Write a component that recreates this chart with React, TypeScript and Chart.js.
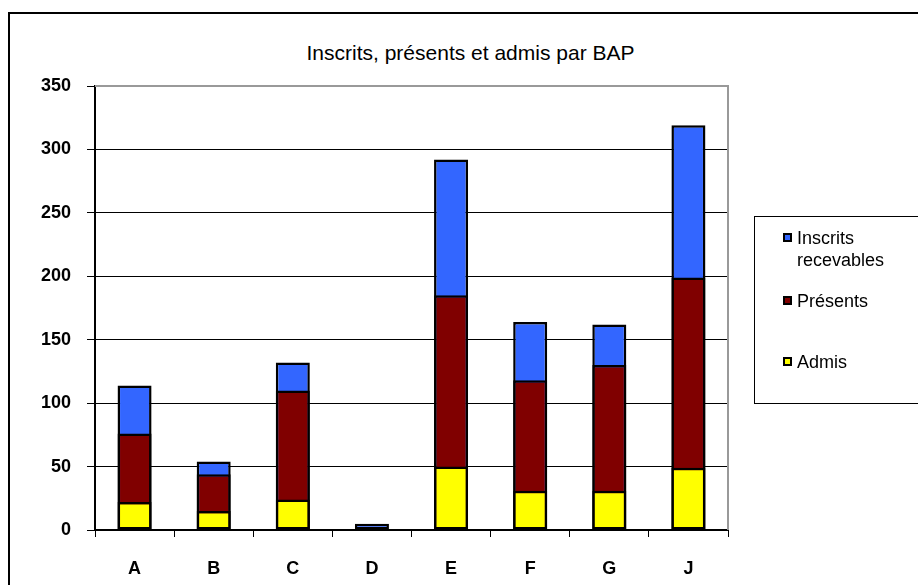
import React, { useEffect, useRef } from "react";
import { Chart, registerables } from "chart.js";

Chart.register(...registerables);

const categories = ["A", "B", "C", "D", "E", "F", "G", "J"];
const inscrits = [114, 54, 132, 5, 292, 164, 162, 319];
const presents = [76, 44, 110, 0, 185, 118, 130, 199];
const admis = [22, 15, 24, 0, 50, 31, 31, 49];
const yTicks = [0, 50, 100, 150, 200, 250, 300, 350];

const title = "Inscrits, présents et admis par BAP";
const legendItems = [
  { label: ["Inscrits", "recevables"], color: "#3366FF" },
  { label: ["Présents"], color: "#800000" },
  { label: ["Admis"], color: "#FFFF00" },
];

const FONT = "'Liberation Sans', Arial, sans-serif";

export default function App() {
  const ref = useRef<HTMLCanvasElement>(null);

  useEffect(() => {
    if (!ref.current) return;
    const framePlugin = {
      id: "frame",
      afterDatasetsDraw(chart: any) {
        const { ctx, chartArea } = chart;
        ctx.save();
        ctx.strokeStyle = "#999999";
        ctx.lineWidth = 2;
        ctx.beginPath();
        ctx.moveTo(chartArea.left, chartArea.top);
        ctx.lineTo(chartArea.right, chartArea.top);
        ctx.lineTo(chartArea.right, chartArea.bottom);
        ctx.stroke();
        ctx.restore();
      },
    };
    const chart = new Chart(ref.current, {
      type: "bar",
      data: {
        labels: categories,
        datasets: [
          { label: "Admis", data: admis, backgroundColor: "#FFFF00" },
          { label: "Présents", data: presents, backgroundColor: "#800000" },
          { label: "Inscrits recevables", data: inscrits, backgroundColor: "#3366FF" },
        ].map((d) => ({
          ...d,
          borderColor: "#000000",
          borderWidth: 2.5,
          borderSkipped: false,
          grouped: false,
          barPercentage: 0.43,
          categoryPercentage: 1,
        })),
      },
      options: {
        animation: false,
        responsive: false,
        layout: { padding: { left: 0, top: 86, right: 190, bottom: 0 } },
        plugins: {
          legend: { display: false },
          title: { display: false },
          tooltip: { enabled: false },
        },
        scales: {
          x: {
            stacked: false,
            afterFit: (s: any) => {
              s.height = 55;
            },
            grid: {
              offset: true,
              drawOnChartArea: false,
              drawTicks: true,
              tickLength: 7,
              color: "#000000",
              lineWidth: 1,
            },
            border: { display: true, color: "#000000", width: 2 },
            ticks: {
              color: "#000000",
              padding: 21,
              font: { family: FONT, size: 18, weight: "bold" },
            },
          },
          y: {
            min: 0,
            max: 350,
            afterFit: (s: any) => {
              s.width = 95;
            },
            afterBuildTicks: (s: any) => {
              s.ticks = yTicks.map((v) => ({ value: v }));
            },
            grid: {
              color: (c: any) => (c.tick && c.tick.value === 350 ? "rgba(0,0,0,0)" : "#000000"),
              tickColor: "#000000",
              lineWidth: 1,
              tickLength: 8,
            },
            border: { display: true, color: "#000000", width: 2 },
            ticks: {
              color: "#000000",
              padding: 16,
              font: { family: FONT, size: 18, weight: "bold" },
            },
          },
        },
      },
      plugins: [framePlugin],
    });
    return () => chart.destroy();
  }, []);

  return (
    <div
      style={{
        position: "absolute",
        left: 0,
        top: 0,
        width: 918,
        height: 585,
        overflow: "hidden",
        background: "#ffffff",
        fontFamily: FONT,
      }}
    >
      <div
        style={{
          position: "absolute",
          left: 8,
          top: 12,
          width: 940,
          height: 620,
          border: "2px solid #000",
          boxSizing: "border-box",
        }}
      />
      <div
        style={{
          position: "absolute",
          left: 0,
          top: 41,
          width: 941,
          textAlign: "center",
          fontSize: 21,
          lineHeight: "24px",
          color: "#000",
          whiteSpace: "nowrap",
        }}
      >
        {title}
      </div>
      <canvas
        ref={ref}
        width={918}
        height={585}
        style={{ position: "absolute", left: 0, top: 0, width: 918, height: 585 }}
      />
      <div
        style={{
          position: "absolute",
          left: 754,
          top: 216,
          width: 200,
          height: 188,
          border: "1px solid #000",
          boxSizing: "border-box",
        }}
      />
      {legendItems.map((it, i) => {
        const tops = [227, 290, 351];
        return (
          <div key={i} style={{ position: "absolute", left: 783, top: tops[i] }}>
            <div
              style={{
                position: "absolute",
                left: 0,
                top: 6,
                width: 9,
                height: 9,
                background: it.color,
                border: "2px solid #000",
                boxSizing: "border-box",
              }}
            />
            <div
              style={{
                position: "absolute",
                left: 14,
                top: 0,
                fontSize: 18,
                lineHeight: "22px",
                color: "#000",
                whiteSpace: "nowrap",
              }}
            >
              {it.label.map((l, j) => (
                <div key={j}>{l}</div>
              ))}
            </div>
          </div>
        );
      })}
    </div>
  );
}
